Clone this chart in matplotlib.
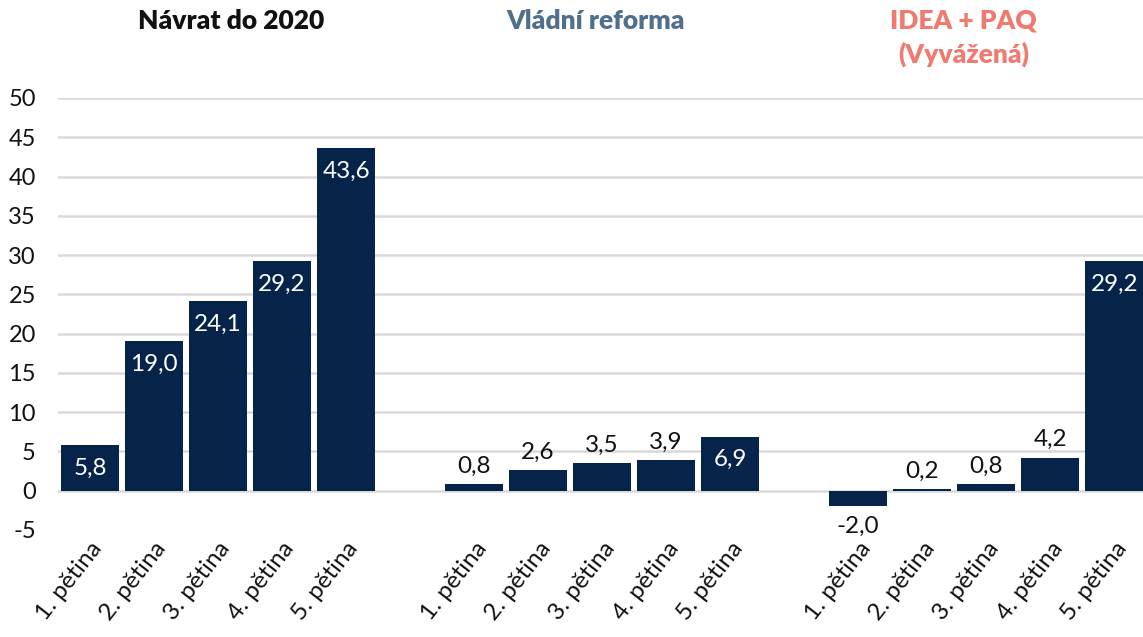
import matplotlib
matplotlib.use("Agg")
import matplotlib.pyplot as plt
import matplotlib.transforms as mtransforms

plt.rcParams['font.family'] = ['Lato', 'DejaVu Sans']

groups = ["Návrat do 2020", "Vládní reforma", "IDEA + PAQ\n(Vyvážená)"]
group_colors = ["#111111", "#4f6f8c", "#f07a70"]
categories = ["1. pětina", "2. pětina", "3. pětina", "4. pětina", "5. pětina"]
navrat = [5.8, 19.0, 24.1, 29.2, 43.6]
vladni = [0.8, 2.6, 3.5, 3.9, 6.9]
idea = [-2.0, 0.2, 0.8, 4.2, 29.2]
yticks = [-5, 0, 5, 10, 15, 20, 25, 30, 35, 40, 45, 50]

series = [navrat, vladni, idea]
bar_color = "#062449"

W, H = 1143, 637
fig = plt.figure(figsize=(W / 100, H / 100), dpi=100)
ax = fig.add_axes([58 / W, 1 - 530 / H, (W - 58) / W, (530 - 98) / H])

positions = []
values = []
labels = []
for g, vals in enumerate(series):
    for i, v in enumerate(vals):
        positions.append(g * 6 + i)
        values.append(v)
        labels.append(categories[i])

ax.bar(positions, values, width=0.9, color=bar_color, zorder=3)

for x, v in zip(positions, values):
    txt = f"{v:.1f}".replace(".", ",")
    if v > 5:
        off, col = -23, "white"
    elif v >= 0:
        off, col = 18, "#111111"
    else:
        off, col = -20, "#111111"
    ax.annotate(txt, (x, v), xytext=(0, off), textcoords="offset pixels",
                ha="center", va="center", color=col, fontsize=17.5, zorder=4)

ax.set_xlim(-0.5, 16.45)
ax.set_ylim(-5, 50)
ax.set_yticks(yticks)
ax.set_yticklabels([str(t) for t in yticks], fontsize=17, color="#111111")
ax.set_xticks(positions)
ax.set_xticklabels(labels, rotation=52, ha="right", rotation_mode="anchor",
                   fontsize=17.5, color="#111111")
ax.tick_params(axis="both", length=0)
ax.tick_params(axis="y", pad=16)
ax.tick_params(axis="x", pad=6)
for s in ax.spines.values():
    s.set_visible(False)

for t in yticks:
    if t >= 0:
        ax.axhline(t, color="#d9d9d9", lw=1.8, zorder=1)

title_x = [2.2, 7.9, 13.65]
tr = mtransforms.blended_transform_factory(ax.transData, fig.transFigure)
for gx, name, col in zip(title_x, groups, group_colors):
    ax.text(gx, 1 - 9 / H, name, transform=tr,
            ha="center", va="top", fontsize=19, fontweight="heavy", color=col,
            linespacing=1.4)

fig.savefig("out.png", dpi=100)
